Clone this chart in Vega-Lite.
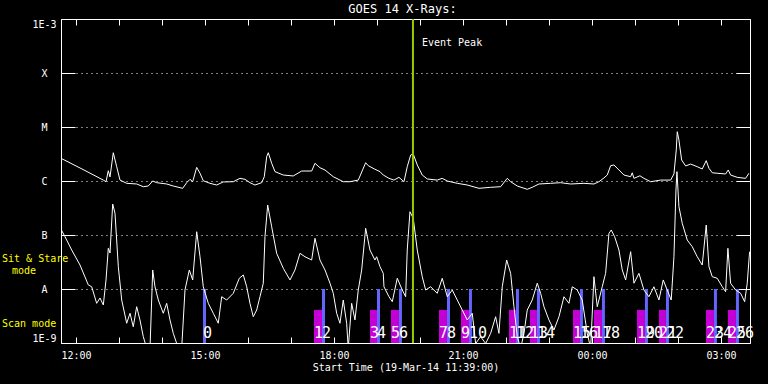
{
 "$schema": "https://vega.github.io/schema/vega-lite/v6.json",
 "width": 689, "height": 324,
 "autosize": {"type": "none"},
 "padding": {"left": 61, "top": 19, "right": 18, "bottom": 41},
 "background": "#000000",
 "title": {"text": "GOES 14 X-Rays:", "color": "#ffffff", "font": "DejaVu Sans Mono", "fontSize": 12, "fontWeight": "normal", "anchor": "middle", "baseline": "alphabetic", "offset": 5, "dy": 12, "dx": -3},
 "config": {
  "view": {"stroke": "#ffffff", "strokeWidth": 1},
  "axis": {"domain": false, "labelColor": "#ffffff", "tickColor": "#ffffff", "gridColor": "#ffffff", "gridOpacity": 1, "titleColor": "#ffffff", "labelFont": "DejaVu Sans Mono", "titleFont": "DejaVu Sans Mono", "titleFontWeight": "normal", "labelFontSize": 10, "titleFontSize": 10}
 },
 "datasets": {
  "long": [
   {"hour":11.65,"flux":2.63e-6},{"hour":12.138,"flux":1.67e-6},{"hour":12.634,"flux":1.04e-6},{"hour":12.697,"flux":9.7e-7},{"hour":12.75,"flux":1.55e-6},{"hour":12.79,"flux":1.19e-6},{"hour":12.866,"flux":3.34e-6},{"hour":12.945,"flux":1.84e-6},{"hour":13.022,"flux":1.04e-6},{"hour":13.178,"flux":9.06e-7},{"hour":13.41,"flux":8.8e-7},{"hour":13.564,"flux":7.84e-7},{"hour":13.68,"flux":8.07e-7},{"hour":13.783,"flux":1.0e-6},{"hour":13.876,"flux":9.3e-7},{"hour":14.108,"flux":8.8e-7},{"hour":14.262,"flux":8.07e-7},{"hour":14.48,"flux":7.32e-7},{"hour":14.573,"flux":9.3e-7},{"hour":14.65,"flux":1.075e-6},{"hour":14.713,"flux":9.7e-7},{"hour":14.806,"flux":1.79e-6},{"hour":14.883,"flux":1.39e-6},{"hour":14.959,"flux":1.01e-6},{"hour":15.115,"flux":9.06e-7},{"hour":15.271,"flux":8.43e-7},{"hour":15.424,"flux":9.6e-7},{"hour":15.657,"flux":9.7e-7},{"hour":15.813,"flux":1.12e-6},{"hour":15.929,"flux":1.075e-6},{"hour":16.045,"flux":9.3e-7},{"hour":16.161,"flux":8.43e-7},{"hour":16.317,"flux":9.3e-7},{"hour":16.378,"flux":1.2e-6},{"hour":16.434,"flux":2.82e-6},{"hour":16.471,"flux":3.34e-6},{"hour":16.55,"flux":2.13e-6},{"hour":16.627,"flux":1.49e-6},{"hour":16.82,"flux":1.29e-6},{"hour":17.052,"flux":1.24e-6},{"hour":17.248,"flux":1.53e-6},{"hour":17.48,"flux":1.53e-6},{"hour":17.557,"flux":2.13e-6},{"hour":17.673,"flux":1.76e-6},{"hour":17.79,"flux":1.6e-6},{"hour":17.983,"flux":1.2e-6},{"hour":18.215,"flux":9.7e-7},{"hour":18.371,"flux":9.7e-7},{"hour":18.564,"flux":1.04e-6},{"hour":18.736,"flux":2.18e-6},{"hour":18.797,"flux":1.92e-6},{"hour":18.952,"flux":1.65e-6},{"hour":19.069,"flux":1.49e-6},{"hour":19.145,"flux":1.29e-6},{"hour":19.278,"flux":1.12e-6},{"hour":19.394,"flux":1.04e-6},{"hour":19.51,"flux":1.17e-6},{"hour":19.627,"flux":9.7e-7},{"hour":19.703,"flux":1.84e-6},{"hour":19.783,"flux":3.03e-6},{"hour":19.843,"flux":3.16e-6},{"hour":19.936,"flux":1.98e-6},{"hour":20.052,"flux":1.29e-6},{"hour":20.169,"flux":1.09e-6},{"hour":20.401,"flux":1.04e-6},{"hour":20.517,"flux":1.12e-6},{"hour":20.634,"flux":1.0e-6},{"hour":20.866,"flux":9.06e-7},{"hour":21.099,"flux":8.43e-7},{"hour":21.371,"flux":7.32e-7},{"hour":21.643,"flux":7.64e-7},{"hour":21.876,"flux":7.84e-7},{"hour":22.029,"flux":1.12e-6},{"hour":22.108,"flux":9.7e-7},{"hour":22.262,"flux":8.07e-7},{"hour":22.494,"flux":7.02e-7},{"hour":22.61,"flux":7.64e-7},{"hour":22.766,"flux":8.8e-7},{"hour":23.038,"flux":9.06e-7},{"hour":23.271,"flux":9.3e-7},{"hour":23.504,"flux":8.8e-7},{"hour":23.813,"flux":9.06e-7},{"hour":24.045,"flux":8.8e-7},{"hour":24.162,"flux":9.7e-7},{"hour":24.278,"flux":1.14e-6},{"hour":24.355,"flux":1.29e-6},{"hour":24.434,"flux":1.92e-6},{"hour":24.51,"flux":1.98e-6},{"hour":24.627,"flux":1.6e-6},{"hour":24.743,"flux":1.29e-6},{"hour":24.899,"flux":1.2e-6},{"hour":24.936,"flux":1.42e-6},{"hour":24.976,"flux":1.12e-6},{"hour":25.115,"flux":1.25e-6},{"hour":25.208,"flux":1.12e-6},{"hour":25.364,"flux":9.7e-7},{"hour":25.597,"flux":1.04e-6},{"hour":25.829,"flux":1.04e-6},{"hour":25.906,"flux":1.35e-6},{"hour":25.96,"flux":3.75e-6},{"hour":25.983,"flux":8.18e-6},{"hour":26.022,"flux":5.74e-6},{"hour":26.085,"flux":2.45e-6},{"hour":26.178,"flux":1.9e-6},{"hour":26.294,"flux":2.06e-6},{"hour":26.448,"flux":1.84e-6},{"hour":26.564,"flux":1.67e-6},{"hour":26.657,"flux":2.38e-6},{"hour":26.72,"flux":1.72e-6},{"hour":26.797,"flux":1.42e-6},{"hour":26.913,"flux":1.39e-6},{"hour":27.108,"flux":1.35e-6},{"hour":27.169,"flux":1.6e-6},{"hour":27.224,"flux":1.29e-6},{"hour":27.377,"flux":1.17e-6},{"hour":27.573,"flux":1.12e-6},{"hour":27.65,"flux":1.39e-6}
  ],
  "short": [
   {"hour":11.65,"flux":1.275e-7},{"hour":11.743,"flux":9.3e-8},{"hour":11.899,"flux":5.27e-8},{"hour":12.092,"flux":2.78e-8},{"hour":12.285,"flux":1.19e-8},{"hour":12.364,"flux":1.1e-8},{"hour":12.48,"flux":5.43e-9},{"hour":12.557,"flux":6.81e-9},{"hour":12.634,"flux":5.06e-9},{"hour":12.697,"flux":1.47e-8},{"hour":12.75,"flux":5.67e-8},{"hour":12.79,"flux":4.64e-8},{"hour":12.852,"flux":3.75e-7},{"hour":12.906,"flux":2.52e-7},{"hour":12.983,"flux":2.59e-8},{"hour":13.062,"flux":6.25e-9},{"hour":13.178,"flux":2.32e-9},{"hour":13.255,"flux":3.55e-9},{"hour":13.331,"flux":2.0e-9},{"hour":13.41,"flux":4.7e-9},{"hour":13.487,"flux":2.67e-9},{"hour":13.564,"flux":1.31e-9},{"hour":13.643,"flux":8e-10},{"hour":13.72,"flux":8e-10},{"hour":13.783,"flux":2.25e-8},{"hour":13.836,"flux":1.1e-8},{"hour":13.913,"flux":6.25e-9},{"hour":14.029,"flux":3.55e-9},{"hour":14.108,"flux":5.43e-9},{"hour":14.185,"flux":2.67e-9},{"hour":14.262,"flux":1.51e-9},{"hour":14.341,"flux":9.8e-10},{"hour":14.457,"flux":8e-10},{"hour":14.534,"flux":9.58e-9},{"hour":14.634,"flux":2.25e-8},{"hour":14.713,"flux":1.47e-8},{"hour":14.806,"flux":1.15e-7},{"hour":14.883,"flux":3.96e-8},{"hour":14.959,"flux":1.1e-8},{"hour":15.076,"flux":5.43e-9},{"hour":15.192,"flux":3.55e-9},{"hour":15.308,"flux":2.32e-9},{"hour":15.387,"flux":7.2e-9},{"hour":15.503,"flux":6.25e-9},{"hour":15.657,"flux":8.32e-9},{"hour":15.797,"flux":1.58e-8},{"hour":15.89,"flux":1.82e-8},{"hour":15.969,"flux":1.1e-8},{"hour":16.045,"flux":5.43e-9},{"hour":16.122,"flux":3.07e-9},{"hour":16.201,"flux":4.08e-9},{"hour":16.278,"flux":7.2e-9},{"hour":16.355,"flux":1.28e-8},{"hour":16.394,"flux":9.3e-8},{"hour":16.457,"flux":3.59e-7},{"hour":16.55,"flux":1.42e-7},{"hour":16.666,"flux":4.58e-8},{"hour":16.82,"flux":2.42e-8},{"hour":16.976,"flux":1.47e-8},{"hour":17.092,"flux":2.25e-8},{"hour":17.208,"flux":4.58e-8},{"hour":17.324,"flux":3.96e-8},{"hour":17.48,"flux":3.44e-8},{"hour":17.557,"flux":8.69e-8},{"hour":17.673,"flux":3.44e-8},{"hour":17.79,"flux":2.25e-8},{"hour":17.906,"flux":1.28e-8},{"hour":17.983,"flux":8.32e-9},{"hour":18.062,"flux":3.55e-9},{"hour":18.138,"flux":2.32e-9},{"hour":18.215,"flux":6.25e-9},{"hour":18.294,"flux":2.32e-9},{"hour":18.331,"flux":8e-10},{"hour":18.41,"flux":5.43e-9},{"hour":18.487,"flux":2.67e-9},{"hour":18.564,"flux":9.58e-9},{"hour":18.643,"flux":2.25e-8},{"hour":18.736,"flux":1.33e-7},{"hour":18.836,"flux":5.27e-8},{"hour":18.952,"flux":3.44e-8},{"hour":18.992,"flux":3.96e-8},{"hour":19.069,"flux":2.59e-8},{"hour":19.145,"flux":1.95e-8},{"hour":19.162,"flux":1.1e-8},{"hour":19.278,"flux":7.2e-9},{"hour":19.355,"flux":5.82e-9},{"hour":19.471,"flux":1.58e-8},{"hour":19.587,"flux":9.58e-9},{"hour":19.666,"flux":7.2e-9},{"hour":19.703,"flux":5.27e-8},{"hour":19.766,"flux":2.7e-7},{"hour":19.843,"flux":2.04e-7},{"hour":19.936,"flux":5.27e-8},{"hour":20.052,"flux":1.69e-8},{"hour":20.131,"flux":9.58e-9},{"hour":20.247,"flux":1.1e-8},{"hour":20.401,"flux":8.32e-9},{"hour":20.517,"flux":1.58e-8},{"hour":20.634,"flux":7.2e-9},{"hour":20.75,"flux":9.58e-9},{"hour":20.866,"flux":6.25e-9},{"hour":20.983,"flux":4.08e-9},{"hour":21.099,"flux":2.67e-9},{"hour":21.215,"flux":3.55e-9},{"hour":21.294,"flux":9.8e-10},{"hour":21.41,"flux":1.31e-9},{"hour":21.527,"flux":9.8e-10},{"hour":21.643,"flux":1.51e-9},{"hour":21.759,"flux":3.07e-9},{"hour":21.836,"flux":1.51e-9},{"hour":21.913,"flux":1.1e-8},{"hour":22.015,"flux":3.44e-8},{"hour":22.108,"flux":1.95e-8},{"hour":22.185,"flux":4.7e-9},{"hour":22.262,"flux":1.31e-9},{"hour":22.341,"flux":8e-10},{"hour":22.418,"flux":1.51e-9},{"hour":22.494,"flux":4.08e-9},{"hour":22.61,"flux":6.25e-9},{"hour":22.727,"flux":1.28e-8},{"hour":22.806,"flux":8.32e-9},{"hour":22.883,"flux":4.7e-9},{"hour":22.999,"flux":2.67e-9},{"hour":23.115,"flux":1.74e-9},{"hour":23.232,"flux":3.07e-9},{"hour":23.348,"flux":7.2e-9},{"hour":23.464,"flux":5.43e-9},{"hour":23.541,"flux":1.1e-8},{"hour":23.657,"flux":9.58e-9},{"hour":23.773,"flux":6.25e-9},{"hour":23.89,"flux":1.51e-9},{"hour":23.969,"flux":8e-10},{"hour":24.045,"flux":1.69e-8},{"hour":24.122,"flux":4.7e-9},{"hour":24.238,"flux":1.1e-8},{"hour":24.317,"flux":1.95e-8},{"hour":24.394,"flux":1.07e-7},{"hour":24.448,"flux":1.24e-7},{"hour":24.527,"flux":9.3e-8},{"hour":24.627,"flux":5.27e-8},{"hour":24.704,"flux":2.25e-8},{"hour":24.783,"flux":1.47e-8},{"hour":24.899,"flux":4.91e-8},{"hour":24.976,"flux":1.28e-8},{"hour":25.092,"flux":1.95e-8},{"hour":25.208,"flux":9.58e-9},{"hour":25.324,"flux":7.2e-9},{"hour":25.441,"flux":1.1e-8},{"hour":25.557,"flux":6.25e-9},{"hour":25.657,"flux":1.47e-8},{"hour":25.75,"flux":9.58e-9},{"hour":25.843,"flux":6.25e-9},{"hour":25.906,"flux":3.96e-8},{"hour":25.953,"flux":6.81e-7},{"hour":25.976,"flux":1.49e-6},{"hour":26.022,"flux":3.34e-7},{"hour":26.099,"flux":1.65e-7},{"hour":26.215,"flux":8.07e-8},{"hour":26.332,"flux":6.07e-8},{"hour":26.448,"flux":3.96e-8},{"hour":26.564,"flux":2.78e-8},{"hour":26.657,"flux":1.53e-7},{"hour":26.72,"flux":2.59e-8},{"hour":26.797,"flux":1.69e-8},{"hour":26.913,"flux":1.58e-8},{"hour":27.03,"flux":1.1e-8},{"hour":27.108,"flux":8.91e-9},{"hour":27.161,"flux":5.67e-8},{"hour":27.224,"flux":1.28e-8},{"hour":27.341,"flux":9.58e-9},{"hour":27.457,"flux":8.32e-9},{"hour":27.55,"flux":5.82e-9},{"hour":27.611,"flux":1.28e-8},{"hour":27.666,"flux":4.91e-8}
  ],
  "scans": [
   {"n":0,"mode":"stare","start":14.952,"end":15.022,"level":1e-8},
   {"n":1,"mode":"scan","start":17.534,"end":17.72,"level":4.1e-9},
   {"n":2,"mode":"stare","start":17.72,"end":17.79,"level":1e-8},
   {"n":3,"mode":"scan","start":18.836,"end":19.0,"level":4.1e-9},
   {"n":4,"mode":"stare","start":19.0,"end":19.07,"level":1e-8},
   {"n":5,"mode":"scan","start":19.324,"end":19.51,"level":4.1e-9},
   {"n":6,"mode":"stare","start":19.51,"end":19.58,"level":1e-8},
   {"n":7,"mode":"scan","start":20.441,"end":20.627,"level":4.1e-9},
   {"n":8,"mode":"stare","start":20.627,"end":20.697,"level":1e-8},
   {"n":9,"mode":"scan","start":20.953,"end":21.139,"level":4.1e-9},
   {"n":10,"mode":"stare","start":21.139,"end":21.208,"level":1e-8},
   {"n":11,"mode":"scan","start":22.069,"end":22.232,"level":4.1e-9},
   {"n":12,"mode":"stare","start":22.232,"end":22.301,"level":1e-8},
   {"n":13,"mode":"scan","start":22.557,"end":22.72,"level":4.1e-9},
   {"n":14,"mode":"stare","start":22.72,"end":22.79,"level":1e-8},
   {"n":15,"mode":"scan","start":23.557,"end":23.72,"level":4.1e-9},
   {"n":16,"mode":"stare","start":23.72,"end":23.79,"level":1e-8},
   {"n":17,"mode":"scan","start":24.045,"end":24.231,"level":4.1e-9},
   {"n":18,"mode":"stare","start":24.231,"end":24.301,"level":1e-8},
   {"n":19,"mode":"scan","start":25.045,"end":25.231,"level":4.1e-9},
   {"n":20,"mode":"stare","start":25.231,"end":25.301,"level":1e-8},
   {"n":21,"mode":"scan","start":25.557,"end":25.72,"level":4.1e-9},
   {"n":22,"mode":"stare","start":25.72,"end":25.79,"level":1e-8},
   {"n":23,"mode":"scan","start":26.65,"end":26.836,"level":4.1e-9},
   {"n":24,"mode":"stare","start":26.836,"end":26.906,"level":1e-8},
   {"n":25,"mode":"scan","start":27.161,"end":27.348,"level":4.1e-9},
   {"n":26,"mode":"stare","start":27.348,"end":27.418,"level":1e-8}
  ],
  "event": [{"hour": 19.836, "label": "Event Peak"}]
 },
 "layer": [
  {
   "data": {"name": "scans"},
   "mark": {"type": "rect"},
   "encoding": {
    "x": {"field": "start", "type": "quantitative", "scale": {"domain": [11.65, 27.675], "nice": false, "zero": false}, "axis": null},
    "x2": {"field": "end"},
    "y": {"field": "level", "type": "quantitative", "scale": {"type": "log", "domain": [1e-9, 1e-3], "nice": false}, "axis": null},
    "y2": {"datum": 1e-9},
    "color": {"field": "mode", "type": "nominal", "scale": {"domain": ["scan", "stare"], "range": ["#c400d4", "#6464ff"]}, "legend": null}
   }
  },
  {
   "data": {"name": "long"},
   "mark": {"type": "line", "color": "#ffffff", "strokeWidth": 1, "clip": true},
   "encoding": {
    "x": {"field": "hour", "type": "quantitative", "scale": {"domain": [11.65, 27.675], "nice": false, "zero": false},
      "axis": {"orient": "bottom", "values": [12,13,14,15,16,17,18,19,20,21,22,23,24,25,26,27], "tickSize": -6, "labelPadding": 13, "labelOverlap": false, "labelFlush": false, "grid": false, "labelExpr": "datum.value % 3 == 0 ? ((datum.value % 24) < 10 ? '0' : '') + (datum.value % 24) + ':00' : ''", "title": "Start Time (19-Mar-14 11:39:00)", "titlePadding": 2}},
    "y": {"field": "flux", "type": "quantitative", "scale": {"type": "log", "domain": [1e-9, 1e-3], "nice": false},
      "axis": {"orient": "left", "values": [1e-9, 1e-8, 1e-7, 1e-6, 1e-5, 1e-4, 1e-3], "tickSize": -14, "labelPadding": 31, "labelAlign": "center", "labelFlush": true, "labelOverlap": false, "grid": true, "gridDash": [1, 4], "title": null,
        "labelExpr": "datum.value > 5e-4 ? '1E-3' : datum.value > 5e-5 ? 'X' : datum.value > 5e-6 ? 'M' : datum.value > 5e-7 ? 'C' : datum.value > 5e-8 ? 'B' : datum.value > 5e-9 ? 'A' : '1E-9'"}}
   }
  },
  {
   "data": {"name": "short"},
   "mark": {"type": "line", "color": "#ffffff", "strokeWidth": 1, "clip": true},
   "encoding": {
    "x": {"field": "hour", "type": "quantitative", "scale": {"domain": [11.65, 27.675], "nice": false, "zero": false},
      "axis": {"orient": "top", "values": [12,13,14,15,16,17,18,19,20,21,22,23,24,25,26,27], "tickSize": -6, "labels": false, "grid": false, "title": null}},
    "y": {"field": "flux", "type": "quantitative", "scale": {"type": "log", "domain": [1e-9, 1e-3], "nice": false},
      "axis": {"orient": "right", "values": [1e-9, 1e-8, 1e-7, 1e-6, 1e-5, 1e-4, 1e-3], "tickSize": -14, "labels": false, "grid": false, "title": null}}
   }
  },
  {
   "data": {"name": "event"},
   "mark": {"type": "rule", "color": "#98cc00", "strokeWidth": 2},
   "encoding": {
    "x": {"field": "hour", "type": "quantitative", "scale": {"domain": [11.65, 27.675], "nice": false, "zero": false}, "axis": null}
   }
  },
  {
   "data": {"name": "event"},
   "mark": {"type": "text", "color": "#ffffff", "font": "DejaVu Sans Mono", "fontSize": 10, "align": "left", "baseline": "alphabetic", "dx": 9},
   "encoding": {
    "x": {"field": "hour", "type": "quantitative", "scale": {"domain": [11.65, 27.675], "nice": false, "zero": false}, "axis": null},
    "y": {"datum": 3.16e-4, "type": "quantitative", "scale": {"type": "log", "domain": [1e-9, 1e-3], "nice": false}, "axis": null},
    "text": {"field": "label"}
   }
  },
  {
   "data": {"name": "scans"},
   "mark": {"type": "text", "color": "#ffffff", "font": "DejaVu Sans Mono", "fontSize": 15, "align": "left", "baseline": "alphabetic", "dx": 0},
   "encoding": {
    "x": {"field": "start", "type": "quantitative", "scale": {"domain": [11.65, 27.675], "nice": false, "zero": false}, "axis": null},
    "y": {"datum": 1.24e-9, "type": "quantitative", "scale": {"type": "log", "domain": [1e-9, 1e-3], "nice": false}, "axis": null},
    "text": {"field": "n", "type": "quantitative"}
   }
  },
  {
   "data": {"values": [{}]},
   "mark": {"type": "text", "text": "Sit & Stare", "color": "#ffff00", "font": "DejaVu Sans Mono", "fontSize": 10, "align": "left", "baseline": "alphabetic", "clip": false},
   "encoding": {
    "x": {"datum": 10.278, "type": "quantitative", "scale": {"domain": [11.65, 27.675], "nice": false, "zero": false}, "axis": null},
    "y": {"datum": 3.16e-8, "type": "quantitative", "scale": {"type": "log", "domain": [1e-9, 1e-3], "nice": false}, "axis": null}
   }
  },
  {
   "data": {"values": [{}]},
   "mark": {"type": "text", "text": "mode", "color": "#ffff00", "font": "DejaVu Sans Mono", "fontSize": 10, "align": "left", "baseline": "alphabetic", "clip": false},
   "encoding": {
    "x": {"datum": 10.51, "type": "quantitative", "scale": {"domain": [11.65, 27.675], "nice": false, "zero": false}, "axis": null},
    "y": {"datum": 1.9e-8, "type": "quantitative", "scale": {"type": "log", "domain": [1e-9, 1e-3], "nice": false}, "axis": null}
   }
  },
  {
   "data": {"values": [{}]},
   "mark": {"type": "text", "text": "Scan mode", "color": "#ffff00", "font": "DejaVu Sans Mono", "fontSize": 10, "align": "left", "baseline": "alphabetic", "clip": false},
   "encoding": {
    "x": {"datum": 10.278, "type": "quantitative", "scale": {"domain": [11.65, 27.675], "nice": false, "zero": false}, "axis": null},
    "y": {"datum": 1.98e-9, "type": "quantitative", "scale": {"type": "log", "domain": [1e-9, 1e-3], "nice": false}, "axis": null}
   }
  }
 ],
 "resolve": {"axis": {"x": "independent", "y": "independent"}}
}
